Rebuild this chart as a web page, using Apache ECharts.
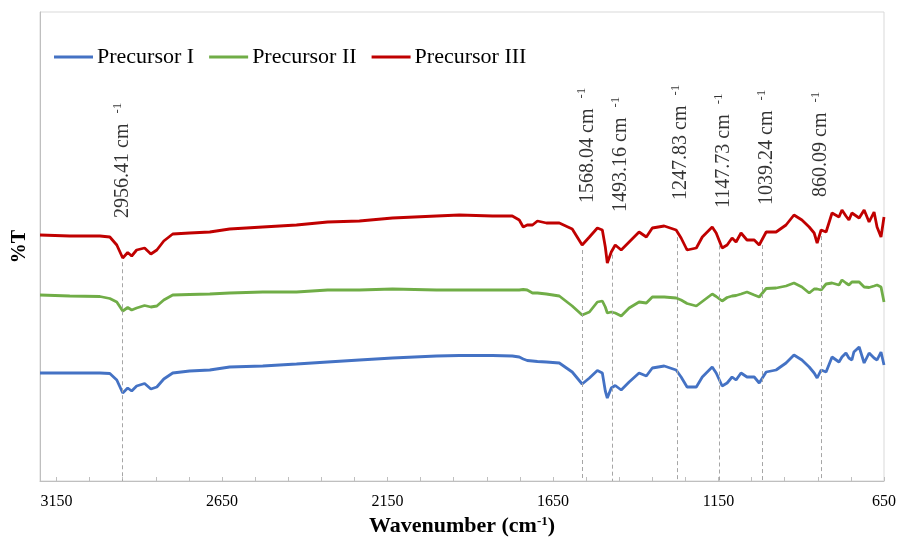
<!DOCTYPE html>
<html>
<head>
<meta charset="utf-8">
<script src="https://cdn.jsdelivr.net/npm/echarts@6/dist/echarts.min.js"></script>
<style>
  html, body { margin: 0; padding: 0; background: #fff; }
  #chart { width: 899px; height: 542px; }
</style>
</head>
<body>
<div id="chart"></div>
<script>
// FTIR spectra, values (offset %T, arbitrary units)
const wavenumber = [
    3200, 3110, 3019, 2989, 2968, 2950, 2935, 2923, 2908, 2884,
    2865, 2847, 2826, 2799, 2748, 2687, 2627, 2527, 2425, 2331,
    2235, 2135, 2002, 1933, 1833, 1773, 1752, 1740, 1728, 1712,
    1697, 1670, 1631, 1592, 1562, 1540, 1516, 1501, 1492, 1486,
    1474, 1462, 1444, 1420, 1390, 1368, 1350, 1314, 1278, 1263,
    1245, 1217, 1199, 1169, 1157, 1139, 1124, 1109, 1097, 1082,
    1064, 1042, 1027, 1006, 976, 946, 922, 898, 876, 861,
    852, 840, 825, 807, 786, 777, 765, 756, 747, 741,
    725, 710, 695, 680, 671, 659, 650
];

const precursorI = [
    10.8, 10.8, 10.8, 10.75, 10.1, 8.8, 9.3, 9.0, 9.5, 9.75,
    9.2, 9.4, 10.2, 10.8, 11.0, 11.1, 11.4, 11.5, 11.7, 11.9,
    12.1, 12.3, 12.5, 12.55, 12.55, 12.5, 12.4, 12.2, 12.05, 12.0,
    11.95, 11.9, 11.8, 10.9, 9.7, 10.3, 11.05, 10.8, 9.0, 8.3,
    9.3, 9.55, 9.1, 9.9, 10.8, 10.5, 11.3, 11.5, 11.1, 10.4,
    9.4, 9.4, 10.4, 11.4, 10.8, 9.5, 9.8, 10.4, 10.1, 10.8,
    10.4, 10.4, 9.8, 10.9, 11.1, 11.8, 12.6, 12.1, 11.4, 10.8,
    10.3, 11.1, 10.9, 12.4, 11.9, 12.4, 12.8, 12.3, 12.1, 12.9,
    13.4, 11.8, 12.8, 12.3, 12.1, 12.9, 11.6
];

const precursorII = [
    18.6, 18.5, 18.45, 18.25, 17.9, 17.0, 17.35, 17.1, 17.3, 17.55,
    17.4, 17.5, 18.1, 18.6, 18.65, 18.7, 18.8, 18.9, 18.9, 19.1,
    19.1, 19.2, 19.1, 19.1, 19.1, 19.1, 19.1, 19.15, 19.1, 18.8,
    18.8, 18.7, 18.5, 17.5, 16.6, 16.9, 17.9, 18.0, 17.4, 16.8,
    16.9, 16.8, 16.5, 17.3, 17.9, 17.8, 18.4, 18.4, 18.3, 18.1,
    17.75, 17.5, 17.95, 18.7, 18.45, 18.0, 18.35, 18.5, 18.55, 18.7,
    18.9, 18.6, 18.4, 19.25, 19.3, 19.5, 19.8, 19.4, 18.8, 19.2,
    19.2, 19.1, 19.7, 19.8, 19.6, 20.1, 19.8, 19.6, 19.9, 20.0,
    19.9, 19.4, 19.35, 19.5, 19.6, 19.4, 17.9
];

const precursorIII = [
    24.6, 24.5, 24.5, 24.4, 23.6, 22.3, 22.85, 22.5, 23.1, 23.3,
    22.7, 23.1, 24.0, 24.7, 24.8, 24.9, 25.2, 25.4, 25.6, 25.9,
    26.0, 26.3, 26.5, 26.6, 26.5, 26.5, 26.1, 25.4, 25.6, 25.6,
    26.0, 25.8, 25.8, 25.2, 23.6, 24.4, 25.3, 25.1, 23.4, 21.8,
    22.9, 23.6, 23.1, 23.9, 24.9, 24.4, 25.3, 25.5, 25.1, 24.3,
    23.1, 23.3, 24.4, 25.4, 24.8, 23.3, 23.6, 24.3, 23.9, 24.8,
    24.1, 24.1, 23.6, 24.9, 24.9, 25.6, 26.6, 26.1, 25.4, 24.8,
    23.8, 25.1, 24.9, 26.8, 26.4, 27.1, 26.5, 26.1, 26.8, 26.9,
    26.3, 27.1, 25.9, 26.9, 25.4, 24.4, 26.4
];

const seriesNames = ['Precursor I', 'Precursor II', 'Precursor III'];

// peak annotations: label text, where the dashed guide sits, where the label sits
const peakLabels = ['2956.41', '1568.04', '1493.16', '1247.83', '1147.73', '1039.24', '860.09'];
const peakGuideAt = [2951, 1562, 1470, 1274, 1148, 1019, 841];
const peakLabelAt = [[2950, 26.3], [1546, 27.8], [1445, 26.9], [1264, 28.1], [1133, 27.3], [1003, 27.6], [841, 28.4]];

const FONT = '"Liberation Serif", "Times New Roman", serif';
const colors = ['#4472C4', '#70AD47', '#C00000'];

// linear interpolation on the (descending) wavenumber grid
const valueAt = (arr, x) => {
    for (let i = 0; i < wavenumber.length - 1; i++) {
        const a = wavenumber[i], b = wavenumber[i + 1];
        if (x <= a && x >= b) {
            const t = (a - x) / (a - b);
            return arr[i] + (arr[i + 1] - arr[i]) * t;
        }
    }
    return arr[arr.length - 1];
};

const chart = echarts.init(document.getElementById('chart'), null, { renderer: 'canvas' });

const toPairs = (vals) => wavenumber.map((w, i) => [w, vals[i]]);

const guideLines = peakGuideAt.map(x => [
    { coord: [x, valueAt(precursorIII, x) - 0.5] },
    { coord: [x, 0] }
]);

chart.setOption({
    animation: false,
    backgroundColor: '#fff',
    grid: {
        left: 40,
        right: 14,
        top: 12,
        bottom: 61,
        show: true,
        borderColor: '#D9D9D9',
        borderWidth: 1
    },
    legend: {
        data: seriesNames,
        left: 54,
        top: 46,
        padding: 0,
        icon: 'rect',
        itemWidth: 39,
        itemHeight: 3,
        itemGap: 15,
        textStyle: {
            fontFamily: FONT,
            fontSize: 22,
            color: '#000',
            padding: [0, 0, 0, -1]
        }
    },
    xAxis: {
        type: 'value',
        inverse: true,
        min: 650,
        max: 3200,
        interval: 100,
        name: '{b|Wavenumber (cm}{s|-1}{b|)}',
        nameLocation: 'middle',
        nameGap: 30,
        nameTextStyle: {
            rich: {
                b: { fontFamily: FONT, fontWeight: 'bold', fontSize: 22, color: '#000' },
                s: { fontFamily: FONT, fontWeight: 'bold', fontSize: 13, color: '#000', verticalAlign: 'top' }
            }
        },
        axisLine: { show: true, lineStyle: { color: '#BFBFBF', width: 1 } },
        axisTick: { show: true, inside: true, length: 4, lineStyle: { color: '#BFBFBF' } },
        splitLine: { show: false },
        axisLabel: {
            fontFamily: FONT,
            fontSize: 16,
            color: '#000',
            margin: 13,
            showMaxLabel: false,
            formatter: (v) => ((v - 650) % 500 === 0 ? String(v) : '')
        }
    },
    yAxis: {
        type: 'value',
        min: 0,
        max: 46.9,
        name: '%T',
        nameLocation: 'middle',
        nameGap: 10,
        nameTextStyle: { fontFamily: FONT, fontWeight: 'bold', fontSize: 20, color: '#000' },
        axisLine: { show: true, lineStyle: { color: '#BFBFBF', width: 1 } },
        axisTick: { show: false },
        axisLabel: { show: false },
        splitLine: { show: false }
    },
    series: [
        {
            name: 'guides',
            type: 'line',
            data: [],
            z: 1,
            silent: true,
            markLine: {
                silent: true,
                symbol: ['none', 'none'],
                label: { show: false },
                lineStyle: { color: '#A6A6A6', type: [4, 3], width: 1 },
                data: guideLines
            }
        },
        ...[precursorI, precursorII, precursorIII].map((vals, i) => ({
            name: seriesNames[i],
            type: 'line',
            z: 2,
            showSymbol: false,
            symbol: 'none',
            color: colors[i],
            lineStyle: { width: 2.8, color: colors[i] },
            data: toPairs(vals)
        })),
        {
            name: 'peaks',
            type: 'scatter',
            symbolSize: 0,
            silent: true,
            z: 3,
            data: peakLabelAt,
            label: {
                show: true,
                position: 'top',
                distance: 0,
                rotate: 90,
                align: 'left',
                verticalAlign: 'middle',
                formatter: (p) => '{n|' + peakLabels[p.dataIndex] + ' cm  }{s|-1}',
                rich: {
                    n: { fontFamily: FONT, fontSize: 20, color: '#000', lineHeight: 24 },
                    s: { fontFamily: FONT, fontSize: 13, color: '#000', verticalAlign: 'top', lineHeight: 14 }
                }
            }
        }
    ]
});
</script>
</body>
</html>
